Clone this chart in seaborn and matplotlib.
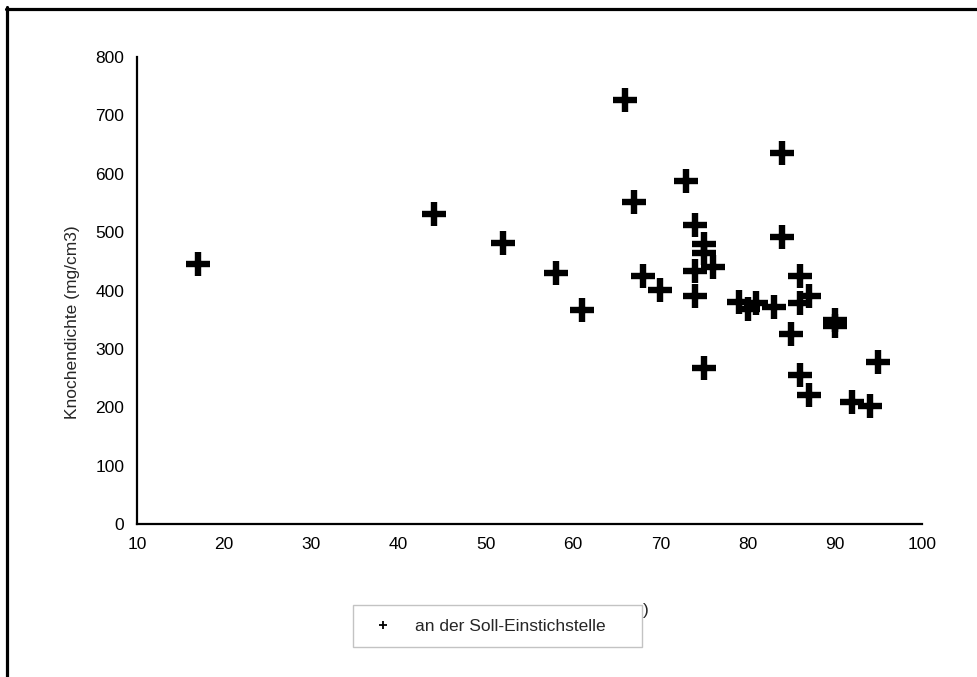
import matplotlib
matplotlib.use("Agg")
import matplotlib.pyplot as plt
from matplotlib.lines import Line2D
import seaborn as sns
import pandas as pd

# Data
alter = [17, 44, 52, 58, 61, 66, 67, 68, 70, 73, 74, 74, 74, 75, 75, 76, 75,
         79, 80, 81, 83, 84, 84, 85, 86, 86, 86, 87, 87, 90, 90, 92, 94, 95]
dichte = [445, 531, 481, 430, 366, 726, 551, 425, 401, 587, 512, 433, 390, 480,
          465, 440, 267, 380, 368, 378, 372, 635, 491, 325, 425, 378, 255, 391,
          221, 350, 340, 209, 202, 277]
x_ticks = [10, 20, 30, 40, 50, 60, 70, 80, 90, 100]
y_ticks = [0, 100, 200, 300, 400, 500, 600, 700, 800]
ylabel = "Knochendichte (mg/cm3)"
legend_label = "an der Soll-Einstichstelle"

df = pd.DataFrame({"x": alter, "y": dichte})

sns.set_style("white")
plt.rcParams["font.family"] = ["Liberation Sans", "DejaVu Sans"]

W, H = 978, 677
fig = plt.figure(figsize=(W / 100, H / 100), dpi=100)
ax = fig.add_axes([137 / W, (H - 524) / H, 785 / W, 467 / H])

sns.scatterplot(data=df, x="x", y="y", ax=ax, marker="+", s=17 ** 2,
                linewidth=4.6, color="black", legend=False)

ax.set_xlim(10, 100)
ax.set_ylim(0, 800)
ax.set_xticks(x_ticks)
ax.set_yticks(y_ticks)
ax.set_xlabel("")
ax.set_ylabel(ylabel, fontsize=12.5)
ax.yaxis.set_label_coords(-57 / 785, (524 - 322) / 467)
for s in ["top", "right"]:
    ax.spines[s].set_visible(False)
for s in ["left", "bottom"]:
    ax.spines[s].set_color("black")
    ax.spines[s].set_linewidth(1.6)
ax.tick_params(axis="both", direction="out", width=1.3,
               color="#808080", labelsize=12.5, labelcolor="black")
ax.tick_params(axis="x", length=4.5, pad=5)
ax.tick_params(axis="y", length=8, pad=1)
ax.set_facecolor("white")

handle = Line2D([], [], marker="+", ls="", color="black", markersize=6, mew=1.3)
leg = ax.legend(handles=[handle], labels=[legend_label], fontsize=12.5,
                bbox_to_anchor=(353 / W, (H - 648) / H, 289 / W, 44 / H),
                bbox_transform=fig.transFigure, loc="center", mode="expand",
                borderaxespad=0, borderpad=0.75, handlelength=2.0,
                handletextpad=0.8, frameon=True, fancybox=False)
leg.get_frame().set_edgecolor("#b4b4b4")
leg.get_frame().set_linewidth(1.0)

# remnant of the hidden x-axis label
fig.text(646 / W, (H - 611) / H, ")", fontsize=12.5, ha="center", va="center")

# outer frame (top and left only)
fig.add_artist(Line2D([6 / W, 1.0], [(H - 8.5) / H, (H - 8.5) / H],
                      transform=fig.transFigure, color="black", lw=2.3))
fig.add_artist(Line2D([7.5 / W, 7.5 / W], [0, (H - 7) / H],
                      transform=fig.transFigure, color="black", lw=2.3))

fig.savefig("out.png", dpi=100, facecolor="white")
